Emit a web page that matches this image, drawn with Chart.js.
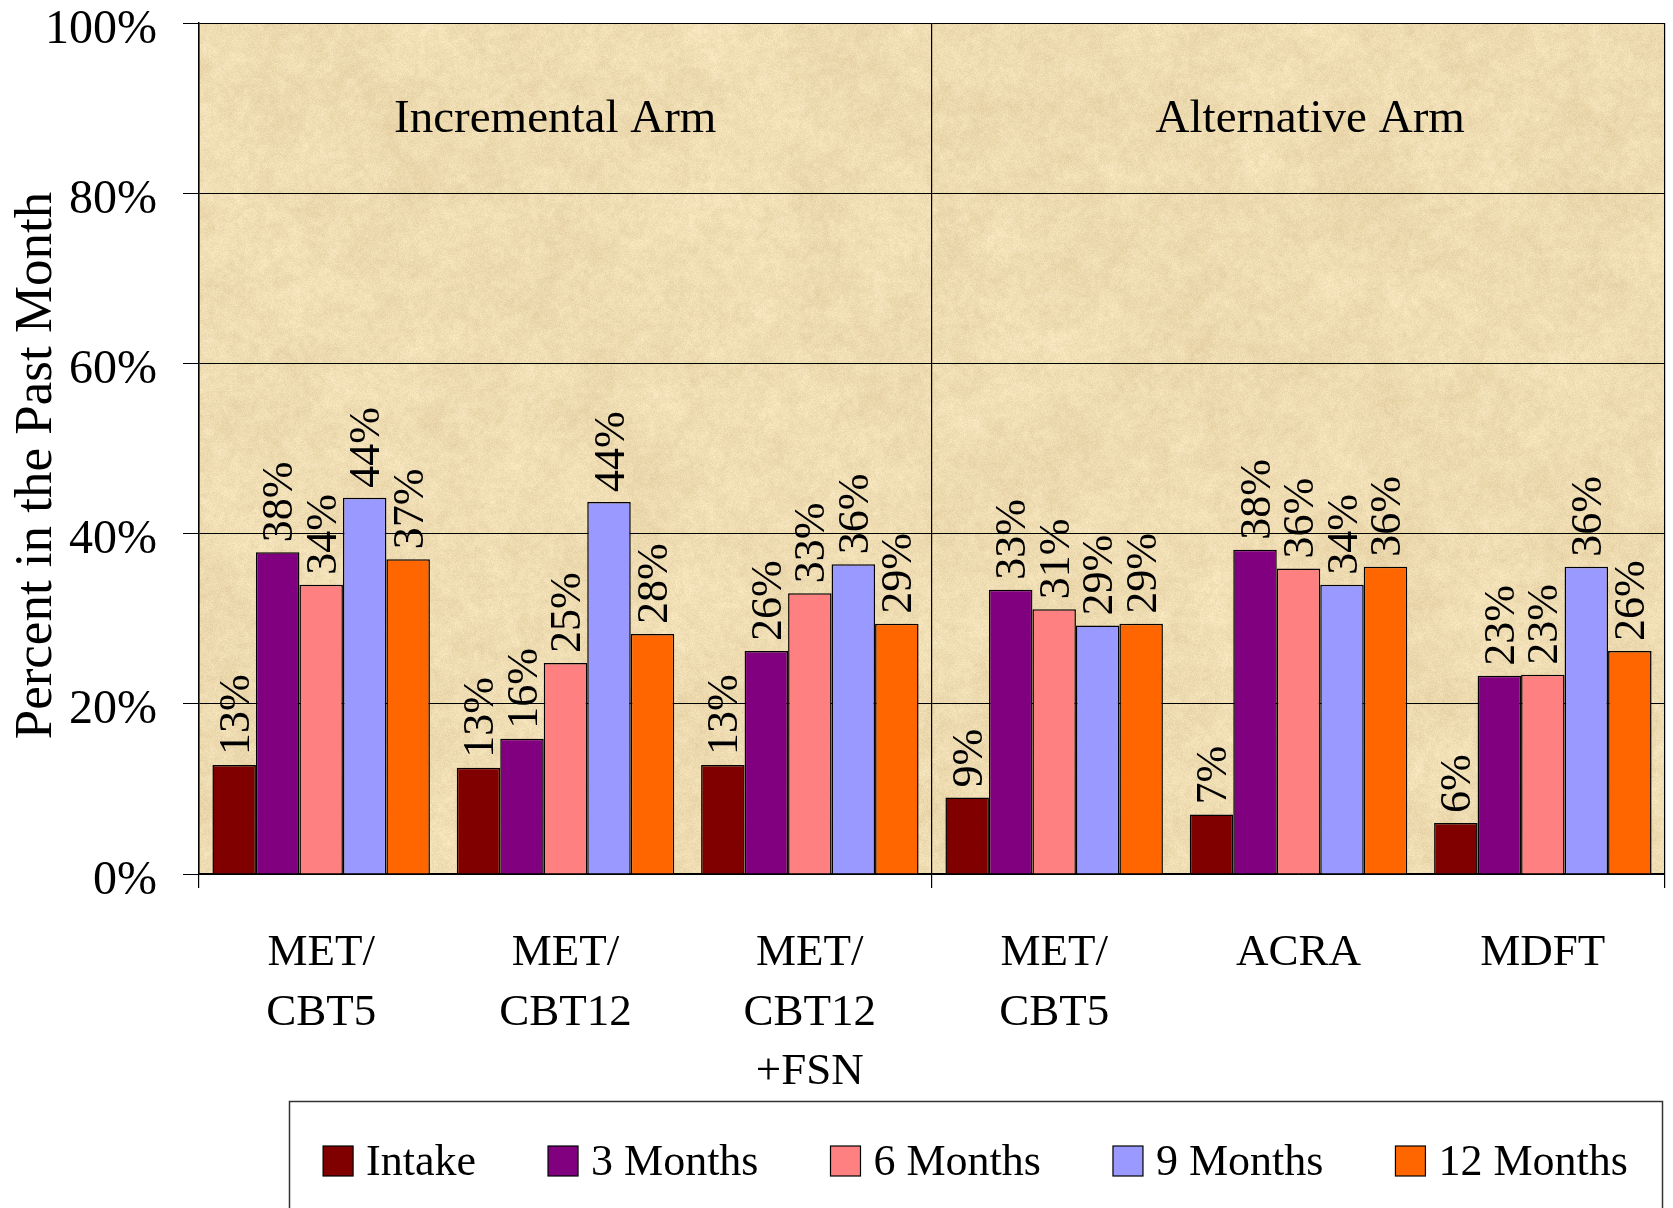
<!DOCTYPE html>
<html><head><meta charset="utf-8">
<script src="https://cdn.jsdelivr.net/npm/chart.js@4.4.1/dist/chart.umd.min.js"></script>
<style>html,body{margin:0;padding:0;background:#fff;} canvas{display:block;}</style>
</head><body>
<canvas id="c" width="1673" height="1208"></canvas>
<script>
// ---- data ----
const categories = [["MET/","CBT5"],["MET/","CBT12"],["MET/","CBT12","+FSN"],["MET/","CBT5"],["ACRA"],["MDFT"]];
const seriesNames = ["Intake","3 Months","6 Months","9 Months","12 Months"];
const intake   = [12.8, 12.5, 12.8,  9.0,  7.0,  6.0];
const months3  = [37.8, 15.9, 26.2, 33.4, 38.1, 23.3];
const months6  = [34.0, 24.8, 33.0, 31.1, 35.9, 23.4];
const months9  = [44.2, 43.7, 36.4, 29.2, 34.0, 36.1];
const months12 = [37.0, 28.2, 29.4, 29.4, 36.1, 26.2];
const yTicks = [0, 20, 40, 60, 80, 100];
const yTitle = "Percent in the Past Month";
const armLabels = ["Incremental Arm", "Alternative Arm"];
const colors = ["#800000", "#800080", "#FF8080", "#9999FF", "#FF6600"];
const seriesData = [intake, months3, months6, months9, months12];

const FAMILY = '"Liberation Serif", "Times New Roman", serif';

// ---- parchment texture (deterministic) ----
function hash2(x, y, s) { const h = Math.sin(x * 127.1 + y * 311.7 + s * 74.7) * 43758.5453; return h - Math.floor(h); }
function layer(w, h, cell, seed, g, alpha) {
  const sw = Math.ceil(w / cell) + 1, sh = Math.ceil(h / cell) + 1;
  const sm = document.createElement('canvas'); sm.width = sw; sm.height = sh;
  const sg = sm.getContext('2d'); const id = sg.createImageData(sw, sh);
  for (let y = 0; y < sh; y++) for (let x = 0; x < sw; x++) {
    const n = hash2(x, y, seed); const i = (y * sw + x) * 4;
    id.data[i] = 226 + n * 26; id.data[i + 1] = 204 + n * 32; id.data[i + 2] = 156 + n * 42; id.data[i + 3] = 255;
  }
  sg.putImageData(id, 0, 0);
  g.save(); g.imageSmoothingEnabled = true; g.imageSmoothingQuality = 'high'; g.globalAlpha = alpha;
  g.drawImage(sm, 0, 0, sw * cell, sh * cell); g.restore();
}
let tex = null;
function makeTexture(w, h) {
  const cv = document.createElement('canvas'); cv.width = w; cv.height = h;
  const g = cv.getContext('2d');
  g.fillStyle = 'rgb(238,221,183)'; g.fillRect(0, 0, w, h);
  layer(w, h, 60, 1, g, 0.5);
  layer(w, h, 18, 2, g, 0.35);
  layer(w, h, 5, 3, g, 0.3);
  const fid = g.getImageData(0, 0, w, h); const d = fid.data;
  for (let y = 0; y < h; y++) for (let x = 0; x < w; x++) {
    const i = (y * w + x) * 4; const n = (hash2(x, y, 7) - 0.5) * 14;
    d[i] += n; d[i + 1] += n; d[i + 2] += n;
  }
  g.putImageData(fid, 0, 0);
  return cv;
}

const bgPlugin = {
  id: 'bg',
  beforeDraw(chart) {
    const ctx = chart.ctx, a = chart.chartArea;
    ctx.save();
    ctx.fillStyle = '#fff'; ctx.fillRect(0, 0, chart.width, chart.height);
    const w = Math.round(a.right - a.left), h = Math.round(a.bottom - a.top);
    if (!tex) tex = makeTexture(w, h);
    ctx.drawImage(tex, a.left, a.top, a.right - a.left, a.bottom - a.top);
    ctx.restore();
  }
};

const armPlugin = {
  id: 'arms',
  beforeDatasetsDraw(chart) {
    const ctx = chart.ctx, a = chart.chartArea, w = a.right - a.left;
    ctx.save();
    ctx.font = '47px ' + FAMILY; ctx.fillStyle = '#000';
    ctx.textAlign = 'center'; ctx.textBaseline = 'middle';
    ctx.fillText(armLabels[0], a.left + w * 0.243, a.top + 97);
    ctx.fillText(armLabels[1], a.left + w * 0.758, a.top + 97);
    ctx.restore();
  }
};

const yTitlePlugin = {
  id: 'ytitle',
  afterDraw(chart) {
    const ctx = chart.ctx, a = chart.chartArea;
    ctx.save();
    ctx.font = '53px ' + FAMILY; ctx.fillStyle = '#000';
    ctx.textAlign = 'center'; ctx.textBaseline = 'middle';
    ctx.translate(37, (a.top + a.bottom) / 2 + 17);
    ctx.rotate(-Math.PI / 2);
    ctx.fillText(yTitle, 0, 0);
    ctx.restore();
  }
};

const labelPlugin = {
  id: 'vals',
  afterDatasetsDraw(chart) {
    const ctx = chart.ctx;
    ctx.save();
    ctx.font = '44px ' + FAMILY; ctx.fillStyle = '#000';
    ctx.textAlign = 'left'; ctx.textBaseline = 'middle';
    chart.data.datasets.forEach((ds, di) => {
      const meta = chart.getDatasetMeta(di);
      meta.data.forEach((el, i) => {
        const v = ds.data[i];
        ctx.save();
        ctx.translate(el.x + 3, el.y - 10);
        ctx.rotate(-Math.PI / 2);
        ctx.fillText(Math.round(v) + '%', 0, 0);
        ctx.restore();
      });
    });
    ctx.restore();
  }
};

const legendPlugin = {
  id: 'customLegend',
  afterDraw(chart) {
    const ctx = chart.ctx;
    const boxL = 289, boxR = 1662, boxT = 1101;
    ctx.save();
    ctx.strokeStyle = '#333'; ctx.lineWidth = 1.5;
    ctx.beginPath();
    ctx.moveTo(boxL + 0.5, chart.height + 5); ctx.lineTo(boxL + 0.5, boxT + 0.5);
    ctx.lineTo(boxR + 0.5, boxT + 0.5); ctx.lineTo(boxR + 0.5, chart.height + 5);
    ctx.stroke();
    ctx.font = '44px ' + FAMILY; ctx.textBaseline = 'middle'; ctx.textAlign = 'left';
    const sq = 30, gap = 13, spacing = 72;
    const items = chart.data.datasets.map(ds => ({ text: ds.label, color: ds.backgroundColor, w: ctx.measureText(ds.label).width }));
    const total = items.reduce((s, it) => s + sq + gap + it.w, 0) + spacing * (items.length - 1);
    let x = (boxL + boxR) / 2 - total / 2;
    const cy = 1161;
    items.forEach(it => {
      ctx.fillStyle = it.color; ctx.fillRect(x, cy - sq / 2, sq, sq);
      ctx.strokeStyle = '#000'; ctx.lineWidth = 1.2; ctx.strokeRect(x, cy - sq / 2, sq, sq);
      ctx.fillStyle = '#000'; ctx.fillText(it.text, x + sq + gap, cy + 2);
      x += sq + gap + it.w + spacing;
    });
    ctx.restore();
  }
};

new Chart(document.getElementById('c'), {
  type: 'bar',
  data: {
    labels: categories,
    datasets: seriesNames.map((n, i) => ({
      label: n, data: seriesData[i], backgroundColor: colors[i],
      borderColor: '#000', borderWidth: 1.5, categoryPercentage: 0.89, barPercentage: 1
    }))
  },
  options: {
    responsive: false, animation: false, devicePixelRatio: 1,
    layout: { padding: { top: 23, right: 8, left: 0, bottom: 0 } },
    plugins: { legend: { display: false }, tooltip: { enabled: false } },
    scales: {
      x: {
        grid: {
          offset: true, drawOnChartArea: true, tickLength: 14, lineWidth: 1.2,
          color: c => (c.index === undefined || c.index % 3 === 0) ? '#000' : 'rgba(0,0,0,0)'
        },
        border: { display: true, color: '#000', width: 1.5 },
        ticks: { font: { family: FAMILY, size: 45, lineHeight: 1.33 }, color: '#000', padding: 35, maxRotation: 0, minRotation: 0, autoSkip: false },
        afterFit: s => { s.height = 334; s.paddingLeft = 0; s.paddingRight = 0; }
      },
      y: {
        min: 0, max: 100,
        afterBuildTicks: s => { s.ticks = yTicks.map(v => ({ value: v })); },
        grid: { color: '#000', lineWidth: 1, tickLength: 16 },
        border: { display: true, color: '#000', width: 1.5 },
        ticks: { callback: v => v + '%', font: { family: FAMILY, size: 48 }, color: '#000', padding: 26, labelOffset: 7 },
        title: { display: false },
        afterFit: s => { s.width = 199; s.paddingTop = 0; s.paddingBottom = 0; }
      }
    }
  },
  plugins: [bgPlugin, armPlugin, labelPlugin, legendPlugin, yTitlePlugin]
});
</script>
</body></html>
